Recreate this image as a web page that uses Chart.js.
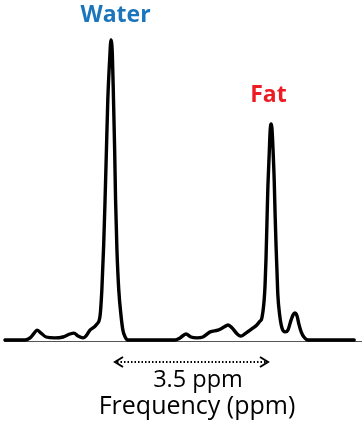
<!DOCTYPE html>
<html>
<head>
<meta charset="utf-8">
<script src="https://cdn.jsdelivr.net/npm/chart.js@4/dist/chart.umd.min.js"></script>
<style>
html,body{margin:0;padding:0;background:#fff;}
canvas{display:block;}
</style>
</head>
<body>
<canvas id="c" width="364" height="432"></canvas>
<script>
// Chemical shift (ppm) of each traced point, and signal intensity (water peak = 100)
const ppm = [7.02, 6.58, 6.47, 6.38, 6.32, 6.23, 6.12, 5.93, 5.75, 5.60, 5.51, 5.42, 5.31, 5.25, 5.16, 5.07, 5.01,
  4.94, 4.90, 4.86, 4.83, 4.80, 4.77, 4.73, 4.70, 4.67, 4.645, 4.62, 4.60, 4.57, 4.53, 4.48, 4.44, 4.39, 4.33,
  3.30, 3.19, 3.06, 2.95, 2.82, 2.69, 2.53, 2.36, 2.23, 2.14, 2.05, 1.94, 1.86, 1.75, 1.62, 1.51, 1.44,
  1.40, 1.35, 1.33, 1.31, 1.29, 1.27, 1.24, 1.22, 1.20, 1.18, 1.16, 1.13, 1.11, 1.09, 1.07, 1.05, 1.01,
  0.96, 0.89, 0.83, 0.76, 0.72, 0.68, 0.63, 0.59, 0.54, 0.48, 0.39, -0.62];
const intensity = [0, 0, 0.7, 2.3, 3.3, 2.3, 1.0, 0.7, 1.0, 2.0, 2.3, 1.3, 0.7, 1.3, 3.3, 4.3, 5.3,
  8, 16.7, 31.7, 46.7, 63.3, 80, 93.3, 100, 95, 80, 63.3, 46.7, 30, 16.7, 8, 3.3, 1, 0,
  0, 0.7, 2.0, 1.0, 0.7, 1.0, 2.7, 3.3, 4.3, 5.0, 4.0, 2.0, 1.3, 2.3, 3.7, 5.0, 6.3,
  7.3, 13.3, 18.3, 26.7, 38.3, 50, 61.7, 69.3, 72, 70.7, 65, 53.3, 41.7, 31.7, 23.3, 15, 8.3,
  4, 2.7, 3.3, 6.7, 8.3, 9, 8, 5.3, 2.7, 1, 0, 0];
// Peak labels
const peakNames = ["Water", "Fat"];
const peakPpm = [4.70, 1.20];
const peakHeight = [100, 72];
const peakColors = ["#1B75BC", "#ED1C24"];
const separationLabel = "3.5 ppm";
const axisTitle = "Frequency (ppm)";

const points = ppm.map((x, i) => ({x: x, y: intensity[i]}));

const annot = {
  id: 'annot',
  beforeDatasetsDraw(chart) {
    const {ctx, chartArea} = chart;
    ctx.save();
    ctx.strokeStyle = '#555';
    ctx.lineWidth = 1.2;
    ctx.beginPath();
    ctx.moveTo(chartArea.left, chartArea.bottom + 0.5);
    ctx.lineTo(chartArea.right, chartArea.bottom + 0.5);
    ctx.stroke();
    ctx.restore();
  },
  afterDraw(chart) {
    const {ctx} = chart;
    const xs = chart.scales.x, ys = chart.scales.y;
    ctx.save();
    // peak labels
    ctx.textAlign = 'center';
    ctx.textBaseline = 'alphabetic';
    ctx.font = 'bold 23px "Open Sans", sans-serif';
    const dx = [4.5, -2.5], dy = [18.5, 22.3];
    peakNames.forEach((n, i) => {
      ctx.fillStyle = peakColors[i];
      const px = xs.getPixelForValue(peakPpm[i]);
      const py = ys.getPixelForValue(peakHeight[i]);
      ctx.fillText(n, px + dx[i], py - dy[i]);
    });
    // dotted double arrow between the two peaks
    const x1 = xs.getPixelForValue(peakPpm[0]) + 4;
    const x2 = xs.getPixelForValue(peakPpm[1]) - 3;
    const ay = 362;
    ctx.strokeStyle = '#000';
    ctx.lineWidth = 2;
    ctx.setLineDash([1.5, 2]);
    ctx.beginPath();
    ctx.moveTo(x1 + 2, ay);
    ctx.lineTo(x2 - 2, ay);
    ctx.stroke();
    ctx.setLineDash([]);
    ctx.lineWidth = 2;
    ctx.lineJoin = 'miter';
    ctx.beginPath();
    ctx.moveTo(x1 + 8, ay - 5);
    ctx.lineTo(x1, ay);
    ctx.lineTo(x1 + 8, ay + 5);
    ctx.moveTo(x2 - 8, ay - 5);
    ctx.lineTo(x2, ay);
    ctx.lineTo(x2 - 8, ay + 5);
    ctx.stroke();
    // texts
    ctx.fillStyle = '#000';
    const cx = (x1 + x2) / 2 + 6.5;
    ctx.font = '23.5px "Open Sans", sans-serif';
    ctx.fillText(separationLabel, cx, 387);
    ctx.font = '25px "Open Sans", sans-serif';
    ctx.fillText(axisTitle, cx - 1, 414);
    ctx.restore();
  }
};

new Chart(document.getElementById('c'), {
  type: 'line',
  data: {
    datasets: [{
      data: points,
      borderColor: '#000',
      borderWidth: 3.4,
      pointRadius: 0,
      fill: false,
      cubicInterpolationMode: 'monotone',
      borderJoinStyle: 'round',
      borderCapStyle: 'round',
      clip: false
    }]
  },
  options: {
    responsive: false,
    animation: false,
    events: [],
    layout: {padding: {top: 40, bottom: 91, left: 4, right: 2}},
    plugins: {legend: {display: false}, tooltip: {enabled: false}},
    scales: {
      x: {type: 'linear', reverse: true, min: -0.7906, max: 7.0406, display: false},
      y: {min: -0.3333, max: 100, display: false}
    }
  },
  plugins: [annot]
});
</script>
</body>
</html>
